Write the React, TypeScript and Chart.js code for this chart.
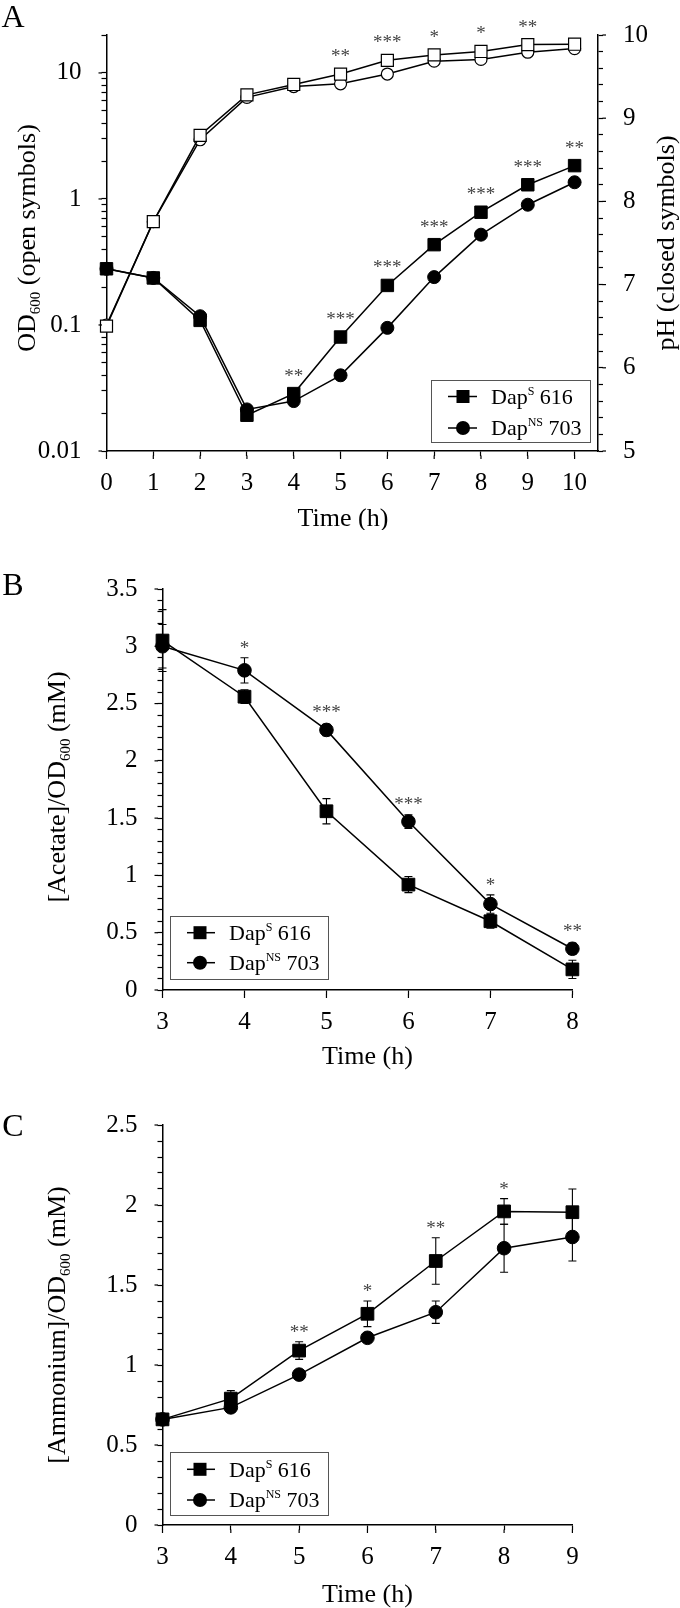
import React, { useEffect, useRef } from 'react';
import { Chart, registerables } from 'chart.js';

Chart.register(...registerables);

const FONT = '"Liberation Serif", "Times New Roman", Times, serif';
Chart.defaults.font.family = FONT;
Chart.defaults.color = '#000';

// ---------- Panel A : OD600 (log, open symbols) and pH (closed symbols) ----------
const hoursA = [0, 1, 2, 3, 4, 5, 6, 7, 8, 9, 10];
const odDapS = [0.098, 0.66, 3.2, 6.7, 8.1, 9.8, 12.6, 13.9, 14.8, 16.8, 16.9];
const odDapNS = [0.1, 0.66, 2.95, 6.4, 7.8, 8.2, 9.8, 12.4, 12.8, 14.6, 15.6];
const odErrS = [0, 0, 0.2, 0.3, 0.3, 0.8, 0.6, 0.7, 0.7, 0.6, 0.8];
const odErrNS = [0, 0, 0.2, 0.3, 0.3, 0.3, 0.3, 0.8, 0.8, 0.5, 1.0];
const phDapS = [7.19, 7.08, 6.57, 5.43, 5.69, 6.37, 6.99, 7.48, 7.87, 8.2, 8.43];
const phDapNS = [7.19, 7.08, 6.62, 5.5, 5.6, 5.91, 6.48, 7.09, 7.6, 7.96, 8.23];
const odStars = ['', '', '', '', '', '**', '***', '*', '*', '**', ''];
const phStars = ['', '', '', '', '**', '***', '***', '***', '***', '***', '**'];
const odTicks = [
  0.01, 0.02, 0.03, 0.04, 0.05, 0.06, 0.07, 0.08, 0.09,
  0.1, 0.2, 0.3, 0.4, 0.5, 0.6, 0.7, 0.8, 0.9,
  1, 2, 3, 4, 5, 6, 7, 8, 9,
  10, 20,
];
const odMajorTicks = [0.01, 0.1, 1, 10];
const odMajorLabels = ['0.01', '0.1', '1', '10'];

// ---------- Panel B : Acetate ----------
const hoursB = [3, 4, 5, 6, 7, 8];
const acetateS = [3.05, 2.56, 1.56, 0.92, 0.6, 0.18];
const acetateSErr = [0.27, 0.06, 0.11, 0.07, 0.06, 0.08];
const acetateNS = [3.0, 2.79, 2.27, 1.47, 0.75, 0.36];
const acetateNSErr = [0.19, 0.11, 0.05, 0.06, 0.08, 0.05];
const acetateStars = ['', '*', '***', '***', '*', '**'];

// ---------- Panel C : Ammonium ----------
const hoursC = [3, 4, 5, 6, 7, 8, 9];
const ammoniumS = [0.66, 0.79, 1.09, 1.32, 1.65, 1.96, 1.955];
const ammoniumSErr = [0.02, 0.05, 0.055, 0.08, 0.145, 0.08, 0.145];
const ammoniumNS = [0.66, 0.735, 0.94, 1.17, 1.33, 1.73, 1.8];
const ammoniumNSErr = [0.01, 0.02, 0.02, 0.02, 0.07, 0.15, 0.15];
const ammoniumStars = ['', '', '**', '*', '**', '*', ''];

const legendS = 'Dap';
const legendSSup = 'S';
const legendSNum = ' 616';
const legendNSSup = 'NS';
const legendNSNum = ' 703';

type Part = { t: string; s: number; dy?: number };

function drawRich(
  ctx: CanvasRenderingContext2D,
  parts: Part[],
  cx: number,
  cy: number,
  base: number,
  rotate = false,
  align: 'center' | 'left' = 'center',
  color = '#000'
) {
  ctx.save();
  ctx.translate(cx, cy);
  if (rotate) ctx.rotate(-Math.PI / 2);
  let w = 0;
  for (const p of parts) {
    ctx.font = `${p.s}px ${FONT}`;
    w += ctx.measureText(p.t).width;
  }
  let x = align === 'center' ? -w / 2 : 0;
  const by = base * 0.33;
  ctx.textBaseline = 'alphabetic';
  ctx.textAlign = 'left';
  ctx.fillStyle = color;
  for (const p of parts) {
    ctx.font = `${p.s}px ${FONT}`;
    ctx.fillText(p.t, x, by + (p.dy || 0));
    x += ctx.measureText(p.t).width;
  }
  ctx.restore();
}

type DecorCfg = {
  letter: { t: string; x: number; y: number; s: number };
  titles: { parts: Part[]; x: number; y: number; rotate?: boolean; s: number }[];
  errors: { ds: number; err: number[] }[];
  stars: { ds: number[]; labels: string[] }[];
  legend: {
    box: [number, number, number, number];
    rows: number[];
    lineX: [number, number];
    markerX: number;
    textX: number;
  };
};

const legendItems: { style: 'rect' | 'circle'; parts: Part[] }[] = [
  { style: 'rect', parts: [{ t: legendS, s: 22 }, { t: legendSSup, s: 12, dy: -9 }, { t: legendSNum, s: 22 }] },
  { style: 'circle', parts: [{ t: legendS, s: 22 }, { t: legendNSSup, s: 12, dy: -9 }, { t: legendNSNum, s: 22 }] },
];

const MINOR_LEN = 5;
const MAJOR_LEN = 8;

function makeDecor(cfg: DecorCfg) {
  return {
    id: 'decor',
    beforeDatasetsDraw(chart: any) {
      const ctx: CanvasRenderingContext2D = chart.ctx;
      ctx.save();
      ctx.strokeStyle = '#000';
      ctx.lineWidth = 1.1;
      for (const e of cfg.errors) {
        const meta = chart.getDatasetMeta(e.ds);
        const ds = chart.data.datasets[e.ds];
        const ys = chart.scales[meta.yAxisID];
        ds.data.forEach((pt: any, j: number) => {
          const err = e.err[j];
          if (!err) return;
          const x = meta.data[j].x;
          const top = ys.getPixelForValue(pt.y + err);
          const bot = ys.getPixelForValue(Math.max(pt.y - err, 1e-6));
          ctx.beginPath();
          ctx.moveTo(x, top);
          ctx.lineTo(x, bot);
          ctx.moveTo(x - 4, top);
          ctx.lineTo(x + 4, top);
          ctx.moveTo(x - 4, bot);
          ctx.lineTo(x + 4, bot);
          ctx.stroke();
        });
      }
      ctx.restore();
    },
    afterDatasetsDraw(chart: any) {
      const ctx: CanvasRenderingContext2D = chart.ctx;
      ctx.save();
      ctx.font = `19px ${FONT}`;
      ctx.fillStyle = '#444';
      ctx.textAlign = 'center';
      ctx.textBaseline = 'alphabetic';
      for (const g of cfg.stars) {
        g.labels.forEach((lab, k) => {
          if (!lab) return;
          let yMin = Infinity;
          let x = 0;
          for (const di of g.ds) {
            const meta = chart.getDatasetMeta(di);
            const ys = chart.scales[meta.yAxisID];
            const v = chart.data.datasets[di].data[k].y;
            const errCfg = cfg.errors.find((e) => e.ds === di);
            const err = errCfg ? errCfg.err[k] : 0;
            x = meta.data[k].x;
            const a = ys.getPixelForValue(v) - 22;
            const b = ys.getPixelForValue(v + err) - 14;
            yMin = Math.min(yMin, a, b);
          }
          ctx.fillText(lab, x, yMin + 10);
        });
      }
      ctx.restore();
    },
    afterDraw(chart: any) {
      const ctx: CanvasRenderingContext2D = chart.ctx;
      // lengthen the labelled (major) tick marks
      ctx.save();
      ctx.strokeStyle = '#000';
      ctx.lineWidth = 1.2;
      for (const id of Object.keys(chart.scales)) {
        const sc = chart.scales[id];
        sc.ticks.forEach((t: any) => {
          if (!t.label) return;
          const p = sc.getPixelForValue(t.value);
          ctx.beginPath();
          if (sc.position === 'left') {
            ctx.moveTo(sc.right - MINOR_LEN + 0.5, p);
            ctx.lineTo(sc.right - MAJOR_LEN, p);
          } else if (sc.position === 'right') {
            ctx.moveTo(sc.left + MINOR_LEN - 0.5, p);
            ctx.lineTo(sc.left + MAJOR_LEN, p);
          } else {
            ctx.moveTo(p, sc.top + MINOR_LEN - 0.5);
            ctx.lineTo(p, sc.top + MAJOR_LEN);
          }
          ctx.stroke();
        });
      }
      ctx.restore();

      drawRich(ctx, [{ t: cfg.letter.t, s: cfg.letter.s }], cfg.letter.x, cfg.letter.y, cfg.letter.s);
      for (const t of cfg.titles) drawRich(ctx, t.parts, t.x, t.y, t.s, !!t.rotate);
      const L = cfg.legend;
      ctx.save();
      ctx.strokeStyle = '#555';
      ctx.lineWidth = 1;
      ctx.strokeRect(L.box[0] + 0.5, L.box[1] + 0.5, L.box[2], L.box[3]);
      ctx.restore();
      legendItems.forEach((it, i) => {
        const ry = L.rows[i];
        ctx.save();
        ctx.strokeStyle = '#000';
        ctx.lineWidth = 1.5;
        ctx.beginPath();
        ctx.moveTo(L.lineX[0], ry);
        ctx.lineTo(L.lineX[1], ry);
        ctx.stroke();
        ctx.fillStyle = '#000';
        if (it.style === 'rect') {
          ctx.fillRect(L.markerX - 6.5, ry - 6.5, 13, 13);
        } else {
          ctx.beginPath();
          ctx.arc(L.markerX, ry, 7, 0, Math.PI * 2);
          ctx.fill();
        }
        ctx.restore();
        drawRich(ctx, it.parts, L.textX, ry, 22, false, 'left');
      });
    },
  };
}

function series(xs: number[], ys: number[], style: string, filled: boolean, axis: string, r: number) {
  return {
    data: xs.map((x, i) => ({ x, y: ys[i] })),
    xAxisID: 'x',
    yAxisID: axis,
    borderColor: '#000',
    borderWidth: 1.5,
    tension: 0,
    fill: false,
    pointStyle: style,
    pointRadius: r,
    pointBorderWidth: filled ? 1 : 1.2,
    pointBackgroundColor: filled ? '#000' : '#fff',
    pointBorderColor: '#000',
    clip: false,
  };
}

const tickFont = { family: FONT, size: 25 };
const gridCfg = { drawOnChartArea: false, drawTicks: true, tickLength: MINOR_LEN, tickColor: '#000', tickWidth: 1.2 };
const borderCfg = { display: true, color: '#000', width: 1.5 };

function xScale(min: number, max: number, ticksArr: number[], h: number) {
  return {
    type: 'linear',
    min,
    max,
    afterFit: (s: any) => {
      s.height = h;
    },
    afterBuildTicks: (s: any) => {
      s.ticks = ticksArr.map((v) => ({ value: v }));
    },
    ticks: { font: tickFont, color: '#000', padding: 12, autoSkip: false, maxRotation: 0, callback: (v: any) => String(v) },
    grid: gridCfg,
    border: borderCfg,
  };
}

function halfLabel(v: any) {
  const n = Math.round(Number(v) * 10) / 10;
  return Math.abs(n * 2 - Math.round(n * 2)) < 1e-9 ? String(n) : '';
}

const baseOpts = {
  responsive: false,
  maintainAspectRatio: false,
  animation: false,
  devicePixelRatio: 1,
  events: [],
  plugins: { legend: { display: false }, tooltip: { enabled: false } },
};

function buildA() {
  const decor: DecorCfg = {
    letter: { t: 'A', x: 13, y: 16, s: 32 },
    titles: [
      { parts: [{ t: 'OD', s: 26 }, { t: '600', s: 15, dy: 5 }, { t: ' (open symbols)', s: 26 }], x: 26, y: 238, rotate: true, s: 26 },
      { parts: [{ t: 'pH (closed symbols)', s: 26 }], x: 665, y: 243, rotate: true, s: 26 },
      { parts: [{ t: 'Time (h)', s: 26 }], x: 343, y: 517, s: 26 },
    ],
    errors: [
      { ds: 0, err: odErrS },
      { ds: 1, err: odErrNS },
    ],
    stars: [
      { ds: [0, 1], labels: odStars },
      { ds: [2, 3], labels: phStars },
    ],
    legend: { box: [431, 380, 159, 62], rows: [396.5, 428], lineX: [448, 477], markerX: 463, textX: 491 },
  };
  return {
    type: 'line',
    data: {
      datasets: [
        series(hoursA, odDapS, 'rect', false, 'y', 8.5),
        series(hoursA, odDapNS, 'circle', false, 'y', 6),
        series(hoursA, phDapS, 'rect', true, 'y1', 8.8),
        series(hoursA, phDapNS, 'circle', true, 'y1', 6.5),
      ],
    },
    options: {
      ...baseOpts,
      layout: { padding: { top: 35, left: 0, right: 0, bottom: 0 } },
      scales: {
        x: xScale(0, 10.5, hoursA, 79),
        y: {
          type: 'logarithmic',
          position: 'left',
          min: 0.01,
          max: 20,
          afterFit: (s: any) => {
            s.width = 106.5;
          },
          afterBuildTicks: (s: any) => {
            s.ticks = odTicks.map((v) => ({ value: v }));
          },
          ticks: {
            font: tickFont,
            color: '#000',
            padding: 20,
            autoSkip: false,
            callback: (v: any) => {
              const i = odMajorTicks.indexOf(Number(v));
              return i >= 0 ? odMajorLabels[i] : '';
            },
          },
          grid: gridCfg,
          border: borderCfg,
        },
        y1: {
          type: 'linear',
          position: 'right',
          min: 5,
          max: 10,
          afterFit: (s: any) => {
            s.width = 82;
          },
          ticks: {
            stepSize: 0.2,
            font: tickFont,
            color: '#000',
            padding: 20,
            autoSkip: false,
            callback: (v: any) => {
              const n = Number(v);
              return Math.abs(n - Math.round(n)) < 1e-6 ? String(Math.round(n)) : '';
            },
          },
          grid: gridCfg,
          border: borderCfg,
        },
      },
    },
    plugins: [makeDecor(decor)],
  };
}

function buildB() {
  const decor: DecorCfg = {
    letter: { t: 'B', x: 13, y: 54, s: 32 },
    titles: [
      { parts: [{ t: '[Acetate]/OD', s: 26 }, { t: '600', s: 15, dy: 5 }, { t: ' (mM)', s: 26 }], x: 56, y: 257, rotate: true, s: 26 },
      { parts: [{ t: 'Time (h)', s: 26 }], x: 367.5, y: 525, s: 26 },
    ],
    errors: [
      { ds: 0, err: acetateSErr },
      { ds: 1, err: acetateNSErr },
    ],
    stars: [{ ds: [0, 1], labels: acetateStars }],
    legend: { box: [170, 386, 158, 63], rows: [402.7, 432.7], lineX: [187, 215], markerX: 200, textX: 229 },
  };
  return {
    type: 'line',
    data: {
      datasets: [series(hoursB, acetateS, 'rect', true, 'y', 9), series(hoursB, acetateNS, 'circle', true, 'y', 6.8)],
    },
    options: {
      ...baseOpts,
      layout: { padding: { top: 59, left: 0, right: 107.6, bottom: 0 } },
      scales: {
        x: xScale(3, 8, hoursB, 80),
        y: {
          type: 'linear',
          position: 'left',
          min: 0,
          max: 3.5,
          afterFit: (s: any) => {
            s.width = 162.5;
          },
          ticks: { stepSize: 0.1, font: tickFont, color: '#000', padding: 20, autoSkip: false, callback: halfLabel },
          grid: gridCfg,
          border: borderCfg,
        },
      },
    },
    plugins: [makeDecor(decor)],
  };
}

function buildC() {
  const decor: DecorCfg = {
    letter: { t: 'C', x: 13, y: 55, s: 32 },
    titles: [
      { parts: [{ t: '[Ammonium]/OD', s: 26 }, { t: '600', s: 15, dy: 5 }, { t: ' (mM)', s: 26 }], x: 56, y: 255, rotate: true, s: 26 },
      { parts: [{ t: 'Time (h)', s: 26 }], x: 367.5, y: 523, s: 26 },
    ],
    errors: [
      { ds: 0, err: ammoniumSErr },
      { ds: 1, err: ammoniumNSErr },
    ],
    stars: [{ ds: [0, 1], labels: ammoniumStars }],
    legend: { box: [170, 382, 158, 63], rows: [399.3, 430], lineX: [187, 215], markerX: 200, textX: 229 },
  };
  return {
    type: 'line',
    data: {
      datasets: [series(hoursC, ammoniumS, 'rect', true, 'y', 9), series(hoursC, ammoniumNS, 'circle', true, 'y', 6.8)],
    },
    options: {
      ...baseOpts,
      layout: { padding: { top: 55, left: 0, right: 107.6, bottom: 0 } },
      scales: {
        x: xScale(3, 9, hoursC, 83),
        y: {
          type: 'linear',
          position: 'left',
          min: 0,
          max: 2.5,
          afterFit: (s: any) => {
            s.width = 162.5;
          },
          ticks: { stepSize: 0.1, font: tickFont, color: '#000', padding: 20, autoSkip: false, callback: halfLabel },
          grid: gridCfg,
          border: borderCfg,
        },
      },
    },
    plugins: [makeDecor(decor)],
  };
}

function ChartCanvas({ top, height, build }: { top: number; height: number; build: () => any }) {
  const ref = useRef<HTMLCanvasElement>(null);
  useEffect(() => {
    const chart = new Chart(ref.current as HTMLCanvasElement, build());
    return () => chart.destroy();
  }, []);
  return (
    <canvas
      ref={ref}
      width={680}
      height={height}
      style={{ position: 'absolute', left: 0, top, width: 680, height, display: 'block' }}
    />
  );
}

export default function App() {
  return (
    <div style={{ position: 'absolute', left: 0, top: 0, width: 680, height: 1608, background: '#fff' }}>
      <ChartCanvas top={0} height={530} build={buildA} />
      <ChartCanvas top={530} height={540} build={buildB} />
      <ChartCanvas top={1070} height={538} build={buildC} />
    </div>
  );
}
